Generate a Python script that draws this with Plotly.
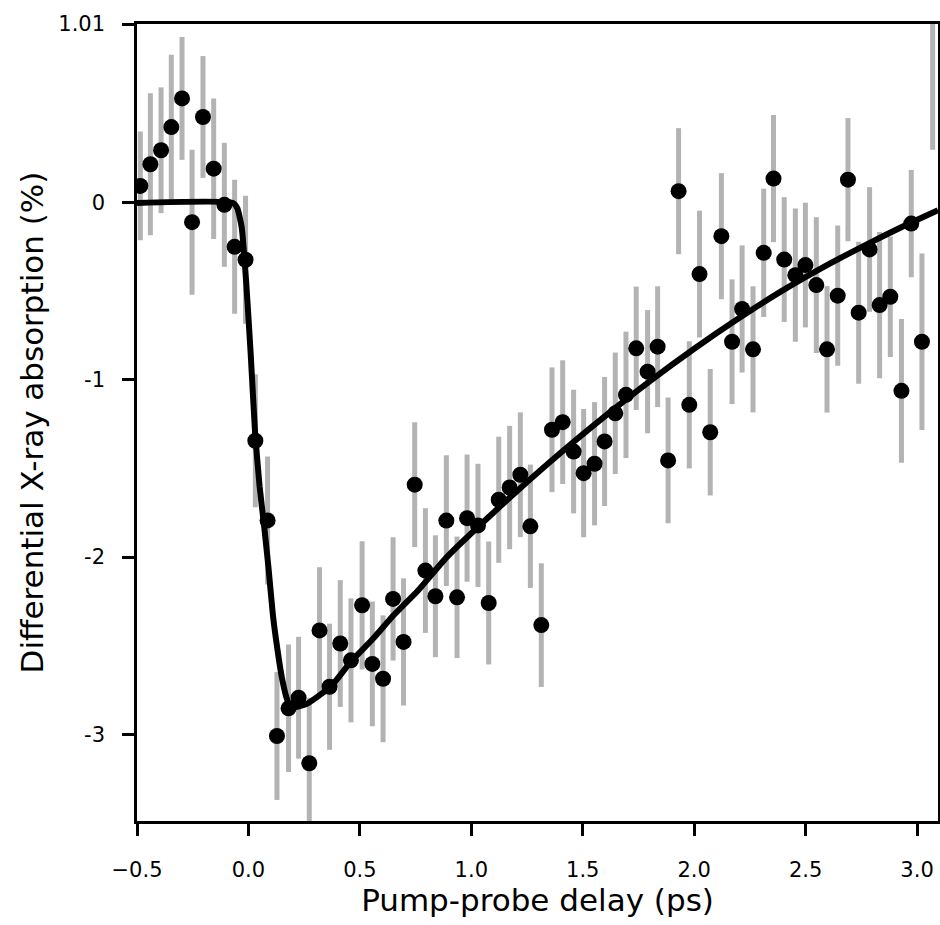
import plotly.graph_objects as go

# ---- measured data points (pump-probe delay in ps, differential absorption in %) ----
delay_ps = [
    -0.485, -0.440, -0.392, -0.346, -0.298, -0.253, -0.204, -0.156, -0.108, -0.062,
    -0.013, 0.031, 0.086, 0.128, 0.180, 0.225, 0.273, 0.319, 0.364, 0.412,
    0.460, 0.510, 0.556, 0.604, 0.649, 0.696, 0.746, 0.794, 0.839, 0.888,
    0.936, 0.981, 1.030, 1.078, 1.123, 1.172, 1.220, 1.265, 1.314, 1.362,
    1.410, 1.459, 1.504, 1.553, 1.598, 1.646, 1.694, 1.740, 1.791, 1.836,
    1.883, 1.930, 1.978, 2.024, 2.072, 2.122, 2.170, 2.215, 2.264, 2.312,
    2.356, 2.404, 2.454, 2.499, 2.548, 2.596, 2.644, 2.690, 2.738, 2.787,
    2.832, 2.880, 2.930, 2.974, 3.022, 3.070,
]
signal = [
    0.096, 0.218, 0.297, 0.428, 0.590, -0.109, 0.485, 0.193, -0.011, -0.248,
    -0.321, -1.343, -1.793, -3.010, -2.854, -2.794, -3.164, -2.414, -2.732, -2.488,
    -2.583, -2.272, -2.603, -2.687, -2.236, -2.479, -1.591, -2.076, -2.221, -1.794,
    -2.227, -1.780, -1.821, -2.259, -1.676, -1.607, -1.535, -1.826, -2.384, -1.281,
    -1.238, -1.404, -1.526, -1.473, -1.347, -1.188, -1.084, -0.821, -0.953, -0.812,
    -1.454, 0.066, -1.140, -0.402, -1.295, -0.188, -0.784, -0.599, -0.827, -0.282,
    0.137, -0.320, -0.408, -0.351, -0.464, -0.827, -0.524, 0.131, -0.620, -0.263,
    -0.577, -0.530, -1.061, -0.117, -0.784, 1.150,
]
signal_err = [
    0.307, 0.401, 0.355, 0.409, 0.347, 0.409, 0.344, 0.397, 0.350, 0.378,
    0.361, 0.376, 0.361, 0.361, 0.360, 0.344, 0.370, 0.357, 0.356, 0.358,
    0.350, 0.362, 0.352, 0.358, 0.348, 0.359, 0.352, 0.352, 0.344, 0.369,
    0.343, 0.359, 0.348, 0.347, 0.356, 0.348, 0.352, 0.348, 0.349, 0.352,
    0.349, 0.349, 0.362, 0.348, 0.364, 0.343, 0.357, 0.348, 0.348, 0.341,
    0.355, 0.356, 0.359, 0.358, 0.357, 0.356, 0.352, 0.359, 0.356, 0.362,
    0.359, 0.352, 0.376, 0.352, 0.383, 0.357, 0.396, 0.348, 0.401, 0.352,
    0.413, 0.340, 0.406, 0.303, 0.498, 0.850,
]

# ---- fitted curve ----
fit_x = [-0.5, -0.07, -0.05, -0.03, -0.01, 0.01, 0.03, 0.05, 0.07, 0.09,
         0.11, 0.13, 0.15, 0.17, 0.19, 0.26, 0.37, 0.46, 0.56, 0.65,
         0.76, 0.89, 1.10, 1.35, 1.60, 1.80, 2.00, 2.20, 2.39, 2.60,
         2.79, 2.95, 3.094]
fit_y = [0.0, 0.0, -0.03, -0.14, -0.45, -0.85, -1.30, -1.60, -1.82, -2.06,
         -2.33, -2.52, -2.68, -2.79, -2.85, -2.83, -2.73, -2.59, -2.46, -2.33,
         -2.19, -2.00, -1.748, -1.466, -1.204, -1.008, -0.824, -0.652, -0.50, -0.349,
         -0.224, -0.125, -0.041]

x_tick_vals = [-0.5, 0.0, 0.5, 1.0, 1.5, 2.0, 2.5, 3.0]
x_tick_text = ["\u22120.5", "0.0", "0.5", "1.0", "1.5", "2.0", "2.5", "3.0"]
y_tick_vals = [1.01, 0, -1, -2, -3]
y_tick_text = ["1.01", "0", "-1", "-2", "-3"]

x_title = "Pump-probe delay (ps)"
y_title = "Differential X-ray absorption (%)"

FONT = "DejaVu Sans"

fig = go.Figure()
fig.add_trace(go.Scatter(
    x=delay_ps, y=signal, mode="markers",
    marker=dict(color="black", size=16, line=dict(width=0)),
    error_y=dict(type="data", array=signal_err, visible=True,
                 color="#b3b3b3", thickness=5, width=0),
    showlegend=False, cliponaxis=True,
))
fig.add_trace(go.Scatter(
    x=fit_x, y=fit_y, mode="lines",
    line=dict(color="black", width=6, shape="spline", smoothing=0.5),
    showlegend=False,
))

axis_common = dict(
    showgrid=False, zeroline=False, showline=True, linecolor="black",
    linewidth=2.5, mirror=True, ticks="outside", ticklen=12, tickwidth=2.5,
    tickcolor="black", tickfont=dict(family=FONT, size=21, color="black"),
)
fig.update_xaxes(
    range=[-0.5, 3.094], tickmode="array", tickvals=x_tick_vals, ticktext=x_tick_text,
    title=dict(text=x_title, font=dict(family=FONT, size=31, color="black"), standoff=1),
    ticklabelstandoff=16,
    **axis_common,
)
fig.update_yaxes(
    range=[-3.49, 1.01], tickmode="array", tickvals=y_tick_vals, ticktext=y_tick_text,
    title=dict(text=y_title, font=dict(family=FONT, size=31, color="black"), standoff=6),
    ticklabelstandoff=13,
    **axis_common,
)
fig.update_layout(
    width=940, height=925,
    margin=dict(l=137, r=2, t=24, b=104, autoexpand=False),
    paper_bgcolor="white", plot_bgcolor="white",
    font=dict(family=FONT, color="black"),
)
fig.write_html("out.html")
